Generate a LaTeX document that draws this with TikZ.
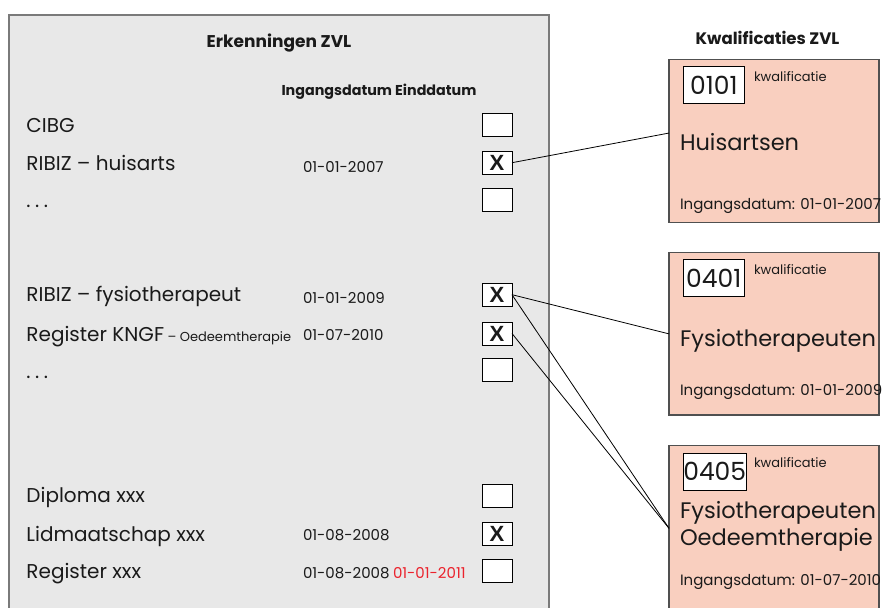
\documentclass[tikz,border=0pt]{standalone}
\usepackage{fontspec}
\setmainfont{Poppins}
\newfontfamily\xfont{Liberation Sans}
\usetikzlibrary{calc}
\definecolor{panelgray}{RGB}{232,232,232}
\definecolor{panelborder}{RGB}{122,122,122}
\definecolor{pinkfill}{RGB}{249,207,191}
\definecolor{qborder}{RGB}{80,80,80}
\definecolor{txt}{RGB}{26,26,26}
\definecolor{redtxt}{RGB}{235,35,45}
\newcommand{\mydots}{.\hspace{4.5pt}.\hspace{4.5pt}.}
\begin{document}
\begin{tikzpicture}[x=1pt,y=-1pt,
  every node/.style={inner sep=0pt, outer sep=0pt, text=txt},
  lbl/.style={anchor=base west, font=\fontsize{20}{24}\selectfont},
  smalllbl/.style={anchor=base west, font=\fontsize{13}{15}\selectfont},
  datum/.style={anchor=base west, font=\fontsize{15}{17}\selectfont},
  chk/.style={draw=black, fill=white, line width=1pt, minimum width=30pt, minimum height=23pt, font=\xfont\bfseries\fontsize{22}{22}\selectfont},
  qbox/.style={draw=qborder, fill=pinkfill, line width=1.2pt, minimum width=210pt, anchor=north west},
  codebox/.style={draw=black, fill=white, line width=0.8pt, minimum width=61pt, minimum height=37pt, font=\fontsize{25}{27}\selectfont, anchor=north west},
  kwal/.style={anchor=base west, font=\fontsize{13}{15}\selectfont},
  qname/.style={anchor=base west, font=\fontsize{22.5}{27}\selectfont},
  qdate/.style={anchor=base west, font=\fontsize{15}{17}\selectfont},
  link/.style={draw=black, line width=0.8pt}
]
\useasboundingbox (0,0) rectangle (884,608);
\clip (0,0) rectangle (884,608);
\fill[white] (0,0) rectangle (884,608);

% left panel
\draw[panelborder, fill=panelgray, line width=2pt] (9,15) rectangle (549,630);
\node[font=\bfseries\fontsize{17}{20}\selectfont] (t1) at (279,43) {Erkenningen ZVL};
\node[font=\bfseries\fontsize{14.3}{16}\selectfont] (t2) at (379,92) {Ingangsdatum Einddatum};

% rows
\node[lbl] (l1) at (26.5,132) {CIBG};
\node[lbl] (l2) at (26.5,170) {RIBIZ – huisarts};
\node[lbl] (l3) at (26.5,207) {\mydots};
\node[lbl] (l4) at (26.5,301.5) {RIBIZ – fysiotherapeut};
\node[lbl] (l5) at (26.5,341) {Register KNGF};
\node[smalllbl] (l5b) at (l5.base east) {\ – Oedeemtherapie};
\node[lbl] (l6) at (26.5,378) {\mydots};
\node[lbl] (l7) at (26.5,502.5) {Diploma xxx};
\node[lbl] (l8) at (26.5,541) {Lidmaatschap xxx};
\node[lbl] (l9) at (26.5,578.5) {Register xxx};

% dates
\node[datum] (d2) at (303,172) {01-01-2007};
\node[datum] (d4) at (303,303) {01-01-2009};
\node[datum] (d5) at (303,340) {01-07-2010};
\node[datum] (d8) at (303,540) {01-08-2008};
\node[datum] (d9) at (303,578) {01-08-2008};
\node[datum, text=redtxt] (e9) at (393,578) {01-01-2011};

% checkboxes
\node[chk] (c1) at (497,124.7) {};
\node[chk] (c2) at (497,162.7) {X};
\node[chk] (c3) at (497,199.6) {};
\node[chk] (c4) at (497,294.7) {X};
\node[chk] (c5) at (497,333.5) {X};
\node[chk] (c6) at (497,370) {};
\node[chk] (c7) at (497,495.7) {};
\node[chk] (c8) at (497,533.5) {X};
\node[chk] (c9) at (497,570.7) {};

% right column
\node[font=\bfseries\fontsize{16.6}{19}\selectfont] (t3) at (767.5,38.3) {Kwalificaties ZVL};

\node[qbox, minimum height=163.5pt] (q1) at (669,59.3) {};
\node[qbox, minimum height=162.3pt] (q2) at (669,252.7) {};
\node[qbox, minimum height=166pt] (q3) at (669,445.3) {};

\node[codebox] (k1) at (683.3,66.7) {0101};
\node[codebox] (k2) at (683.3,259.5) {0401};
\node[codebox] (k3) at (683.3,453.3) {0405};

\node[kwal] (w1) at (754,81) {kwalificatie};
\node[kwal] (w2) at (754,274) {kwalificatie};
\node[kwal] (w3) at (754,467) {kwalificatie};

\node[qname] (n1) at (680,150) {Huisartsen};
\node[qname] (n2) at (680,346) {Fysiotherapeuten};
\node[qname] (n3a) at (680,518) {Fysiotherapeuten};
\node[qname] (n3b) at (680,545) {Oedeemtherapie};

\node[qdate] (g1) at (680,209) {Ingangsdatum: 01-01-2007};
\node[qdate] (g2) at (680,395) {Ingangsdatum: 01-01-2009};
\node[qdate] (g3) at (680,585) {Ingangsdatum: 01-07-2010};

% links
\draw[link] (c2.east) -- ([yshift=8pt]q1.west);
\draw[link] (c4.east) -- (q2.west);
\draw[link] (c4.east) -- (q3.west);
\draw[link] (c5.east) -- (q3.west);
\end{tikzpicture}
\end{document}
